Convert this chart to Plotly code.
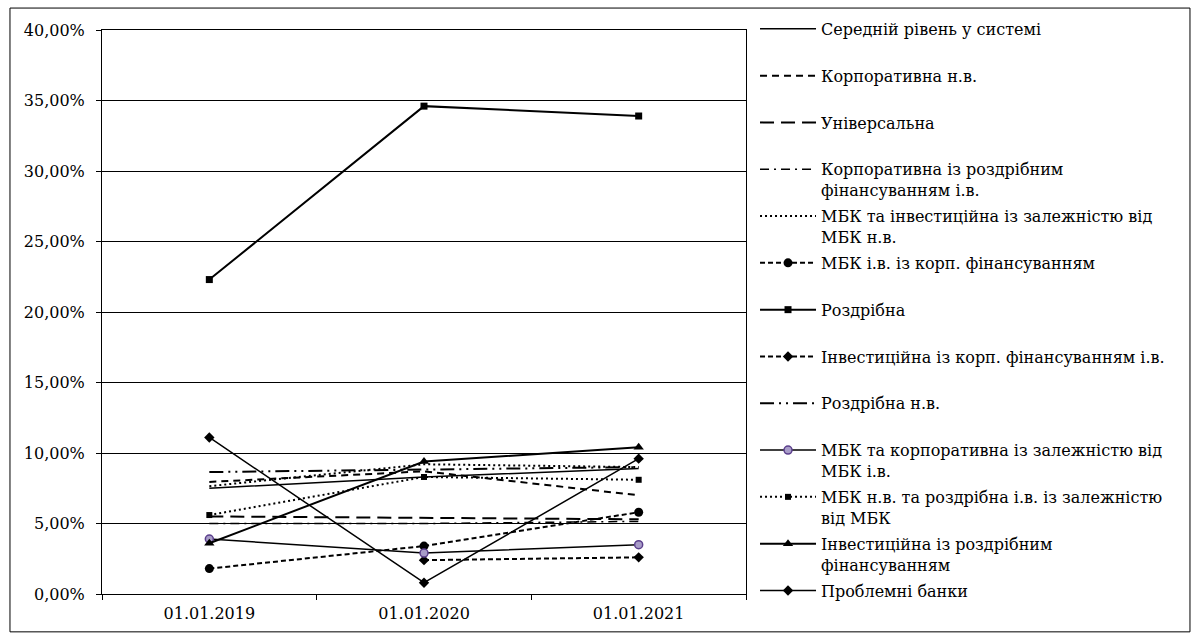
import plotly.graph_objects as go

categories = ["01.01.2019", "01.01.2020", "01.01.2021"]

names = [
    "Середній рівень у системі",
    "Корпоративна н.в.",
    "Універсальна",
    "Корпоративна із роздрібним<br>фінансуванням і.в.",
    "МБК та інвестиційна із залежністю від<br>МБК н.в.",
    "МБК і.в. із корп. фінансуванням",
    "Роздрібна",
    "Інвестиційна із корп. фінансуванням і.в.",
    "Роздрібна н.в.",
    "МБК та корпоративна із залежністю від<br>МБК і.в.",
    "МБК н.в. та роздрібна і.в. із залежністю<br>від МБК",
    "Інвестиційна із роздрібним<br>фінансуванням",
    "Проблемні банки",
]

# values in percent
avg_system = [7.5, 8.3, 8.9]
corp_nv = [7.95, 8.7, 7.0]
universal = [5.5, 5.4, 5.3]
corp_retail_iv = [5.0, 5.0, 5.15]
mbk_invest_nv = [7.65, 9.2, 9.0]
mbk_iv_corp = [1.8, 3.4, 5.8]
retail = [22.3, 34.6, 33.9]
invest_corp_iv = [None, 2.4, 2.6]
retail_nv = [8.65, 8.85, 9.0]
mbk_corp_iv = [3.9, 2.9, 3.5]
mbk_nv_retail_iv = [5.6, 8.3, 8.1]
invest_retail = [3.6, 9.4, 10.4]
problem_banks = [11.1, 0.8, 9.6]

series = [avg_system, corp_nv, universal, corp_retail_iv, mbk_invest_nv, mbk_iv_corp,
          retail, invest_corp_iv, retail_nv, mbk_corp_iv, mbk_nv_retail_iv,
          invest_retail, problem_banks]

styles = [
    dict(line=dict(color="black", width=1.5), mode="lines"),
    dict(line=dict(color="black", width=2, dash="7px,5px"), mode="lines"),
    dict(line=dict(color="black", width=2, dash="14px,7px"), mode="lines"),
    dict(line=dict(color="black", width=1.5, dash="9px,5px,2px,5px"), mode="lines"),
    dict(line=dict(color="black", width=2, dash="2px,3px"), mode="lines"),
    dict(line=dict(color="black", width=2, dash="5px,3px"), mode="lines+markers",
         marker=dict(symbol="circle", size=9, color="black")),
    dict(line=dict(color="black", width=2), mode="lines+markers",
         marker=dict(symbol="square", size=7, color="black")),
    dict(line=dict(color="black", width=2, dash="5px,3px"), mode="lines+markers",
         marker=dict(symbol="diamond", size=8, color="black")),
    dict(line=dict(color="black", width=2, dash="14px,5px,2px,5px,2px,5px"), mode="lines"),
    dict(line=dict(color="black", width=1.5), mode="lines+markers",
         marker=dict(symbol="circle", size=8, color="#a89cc8", line=dict(color="#5b3f8c", width=1.5))),
    dict(line=dict(color="black", width=2, dash="2px,3px"), mode="lines+markers",
         marker=dict(symbol="square", size=6, color="black")),
    dict(line=dict(color="black", width=2), mode="lines+markers",
         marker=dict(symbol="triangle-up", size=9, color="black")),
    dict(line=dict(color="black", width=1.5), mode="lines+markers",
         marker=dict(symbol="diamond", size=8, color="black")),
]

SERIF = "DejaVu Serif, Liberation Serif, serif"

fig = go.Figure()
for i, (nm, vals, st) in enumerate(zip(names, series, styles)):
    label = nm if "<br>" in nm else nm + "<br> "
    fig.add_trace(go.Scatter(
        x=categories,
        y=[None if v is None else v / 100 for v in vals],
        name=label,
        legendgroup="g%d" % i,
        connectgaps=False,
        **st,
    ))

fig.update_layout(
    width=1196, height=637,
    margin=dict(l=102, r=450, t=28, b=43),
    paper_bgcolor="white", plot_bgcolor="white",
    separators=", ",
    font=dict(family=SERIF, size=16, color="black"),
    showlegend=True,
    legend=dict(
        x=1.014, y=1.032, xanchor="left", yanchor="top",
        font=dict(family=SERIF, size=16, color="black"),
        valign="top", itemwidth=56, tracegroupgap=2.2,
        bgcolor="rgba(0,0,0,0)", maxheight=630,
    ),
    xaxis=dict(
        type="category", range=[-0.5, 2.5], showline=True, linecolor="black", linewidth=1,
        mirror=True, showgrid=False, ticks="outside", tickson="boundaries", ticklen=5,
        tickcolor="black", tickfont=dict(family=SERIF, size=16), ticklabelstandoff=5,
    ),
    yaxis=dict(
        range=[0, 0.4], dtick=0.05, tickformat=".2%", showline=True, linecolor="black",
        linewidth=1, mirror=True, showgrid=True, gridcolor="black", gridwidth=1,
        ticks="outside", ticklen=5, tickcolor="black", zeroline=False,
        tickfont=dict(family=SERIF, size=16), ticklabelstandoff=8,
    ),
    shapes=[dict(type="rect", xref="paper", yref="paper",
                 x0=-0.1429, x1=1.6894, y0=-0.0671, y1=1.0389,
                 line=dict(color="black", width=1), fillcolor="rgba(0,0,0,0)")],
)

fig.write_html("out.html")
